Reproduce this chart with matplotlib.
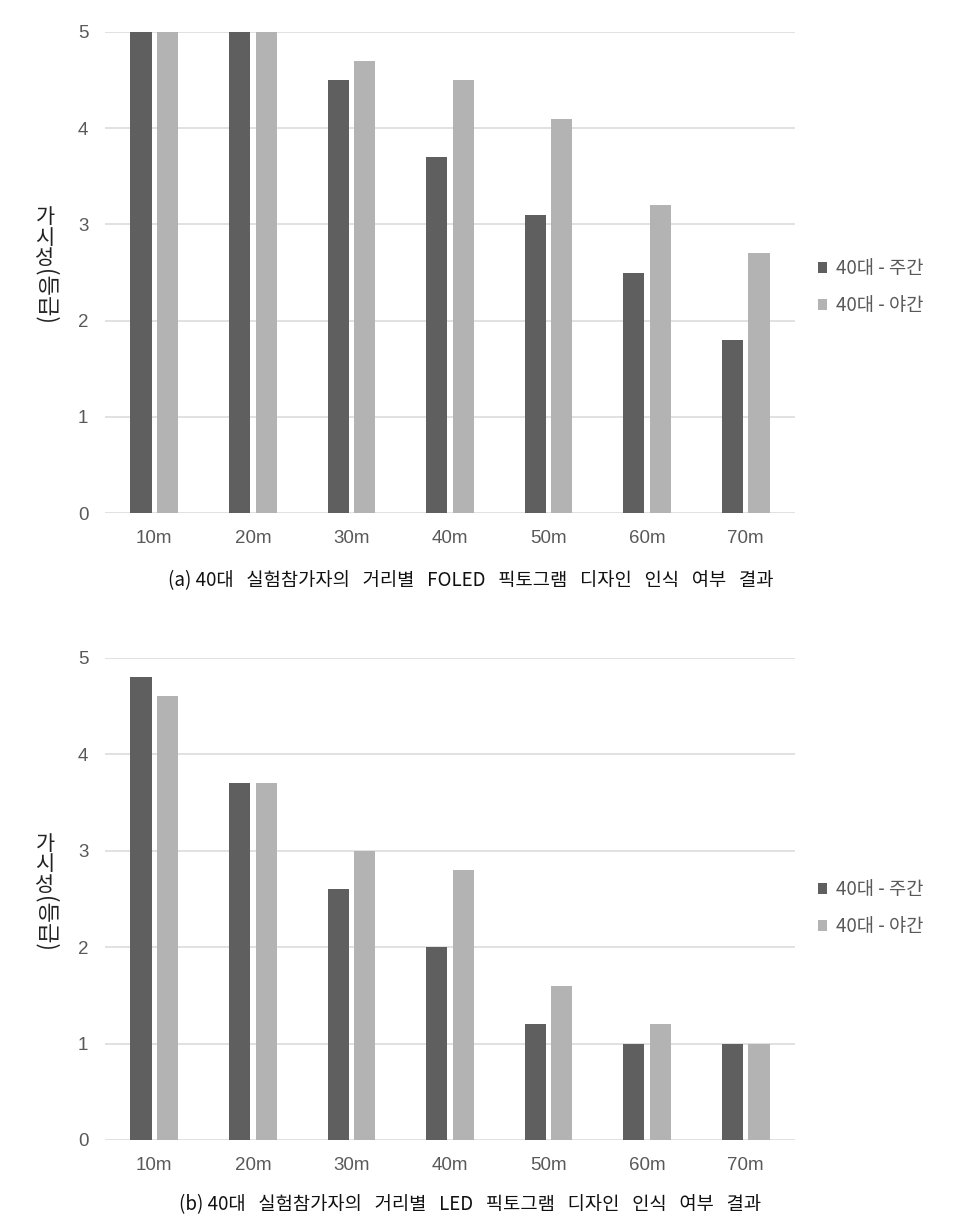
import numpy as np
import matplotlib.pyplot as plt
from matplotlib.patches import Patch

plt.rcParams['font.family'] = ['Noto Sans CJK KR', 'DejaVu Sans']

distances = ['10m', '20m', '30m', '40m', '50m', '60m', '70m']
series_names = ['40대 - 주간', '40대 - 야간']

# (a) FOLED pictogram
foled_day = [5.0, 5.0, 4.5, 3.7, 3.1, 2.5, 1.8]
foled_night = [5.0, 5.0, 4.7, 4.5, 4.1, 3.2, 2.7]

# (b) LED pictogram
led_day = [4.8, 3.7, 2.6, 2.0, 1.2, 1.0, 1.0]
led_night = [4.6, 3.7, 3.0, 2.8, 1.6, 1.2, 1.0]

captions = ['(a) 40대   실험참가자의   거리별   FOLED   픽토그램   디자인   인식   여부   결과',
            '(b) 40대   실험참가자의   거리별   LED   픽토그램   디자인   인식   여부   결과']

dark = '#5f5f5f'
light = '#b3b3b3'
grid_c = '#d9d9d9'
tick_c = '#595959'

fig = plt.figure(figsize=(9.56, 12.30), dpi=100)

axes_boxes = [[0.1098, 0.5829, 0.7218, 0.3911],
              [0.1098, 0.0732, 0.7218, 0.3919]]
caption_y = [1 - 581 / 1230, 1 - 1205 / 1230]
label_top = [208, 835]      # pixel row where the stacked y label starts
legend_mid = [287, 908]     # pixel row of legend centre

x = np.arange(len(distances))
w = 0.215
off = 0.135

for k, (day, night) in enumerate([(foled_day, foled_night), (led_day, led_night)]):
    ax = fig.add_axes(axes_boxes[k])
    ax.bar(x - off, day, width=w, color=dark, zorder=3)
    ax.bar(x + off, night, width=w, color=light, zorder=3)
    ax.set_xlim(-0.5, len(distances) - 0.5)
    ax.set_ylim(0, 5)
    ax.set_yticks(range(6))
    ax.set_xticks(x)
    ax.set_xticklabels(distances)
    ax.grid(axis='y', color=grid_c, linewidth=1.1, zorder=0)
    for s in ax.spines.values():
        s.set_visible(False)
    ax.tick_params(length=0, colors=tick_c, labelsize=13.5)
    ax.tick_params(axis='y', pad=12)
    ax.tick_params(axis='x', pad=12)
    for lab in ax.get_xticklabels() + ax.get_yticklabels():
        lab.set_fontfamily(['Liberation Sans', 'DejaVu Sans'])

    # vertical y label: stacked syllables + rotated parenthesis part
    top = label_top[k]
    for j, ch in enumerate('가시성'):
        fig.text(45 / 956, 1 - (top + 9 + 20.5 * j) / 1230, ch, ha='center', va='center',
                 fontsize=15, color='#222222')
    fig.text(45 / 956, 1 - (top + 61) / 1230, '(등급)', ha='center', va='top',
             fontsize=16, color='#222222', rotation=270)

    handles = [Patch(facecolor=dark, label=series_names[0]),
               Patch(facecolor=light, label=series_names[1])]
    fig.legend(handles=handles, loc='center left',
               bbox_to_anchor=(0.838, 1 - legend_mid[k] / 1230),
               frameon=False, fontsize=13.5, handlelength=0.5, handleheight=0.5,
               handletextpad=0.45, labelspacing=0.85, labelcolor=tick_c)

    fig.text(0.492, caption_y[k], captions[k], ha='center', va='center',
             fontsize=13.5, color='#111111')

fig.savefig('out.png', dpi=100, facecolor='white')
